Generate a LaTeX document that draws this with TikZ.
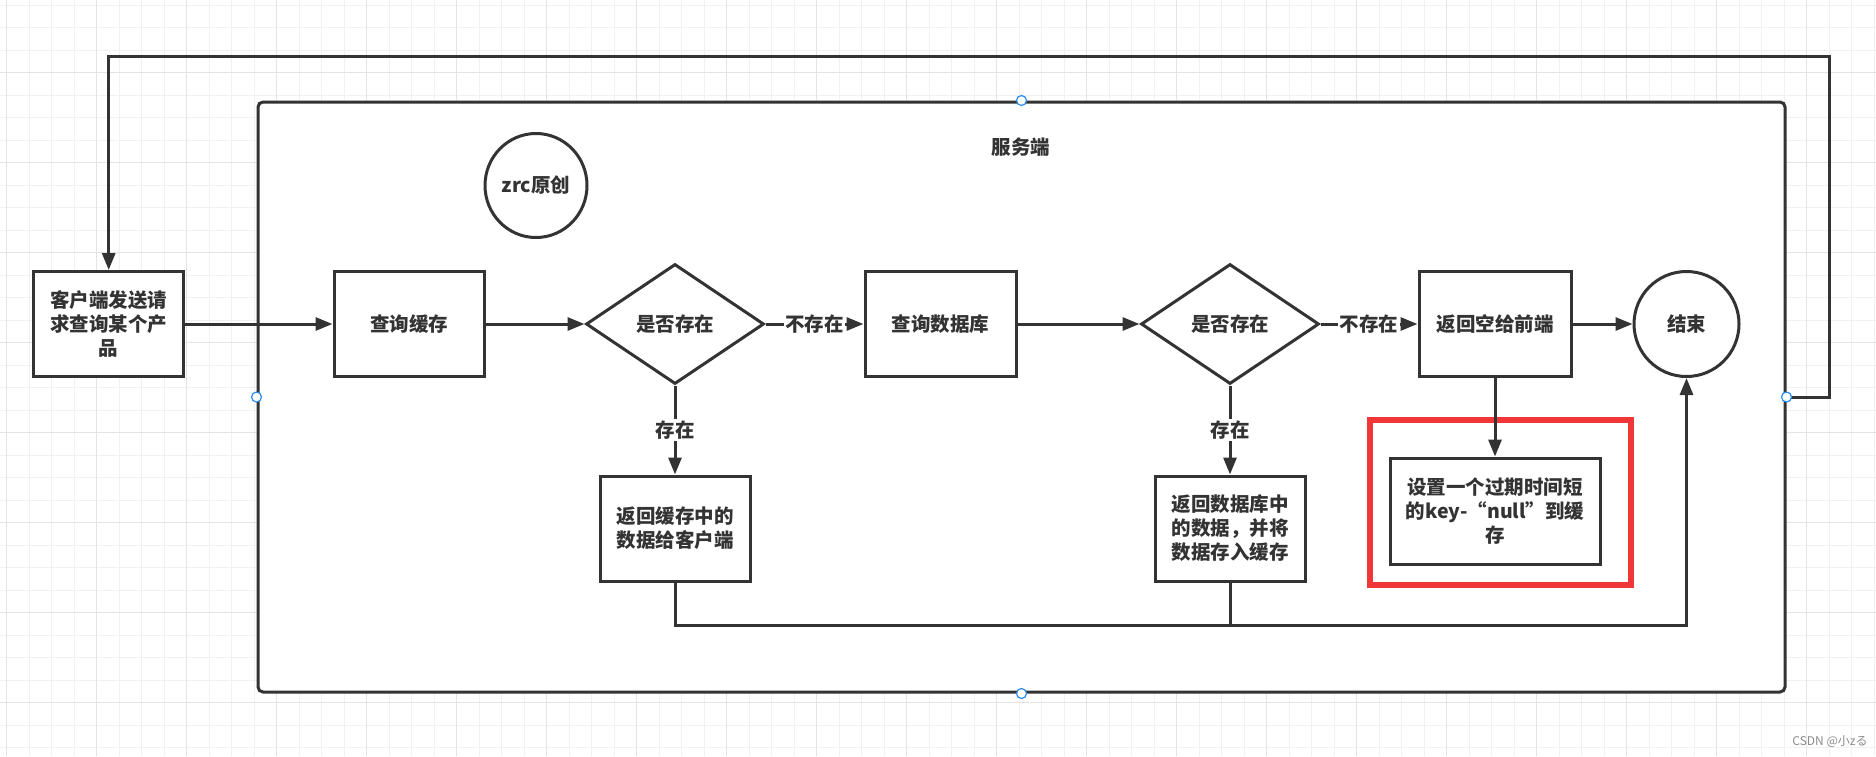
\documentclass[tikz,border=0pt]{standalone}
\usepackage{fontspec}
\setmainfont{Noto Sans CJK SC}
\usetikzlibrary{arrows.meta,shapes.geometric}
\definecolor{ink}{HTML}{333333}
\definecolor{gridminor}{HTML}{F1F1F1}
\definecolor{gridmajor}{HTML}{E4E4E4}
\definecolor{handleblue}{HTML}{2A8CF0}
\definecolor{alertred}{HTML}{F03636}
\tikzset{
  ln/.style={draw=ink, line width=3pt},
  arr/.style={ln, -{Triangle[length=17pt,width=13pt]}},
  box/.style={rectangle, draw=ink, line width=3pt, fill=white, text=ink, align=center, inner sep=0pt, minimum width=150pt, minimum height=105pt},
  dec/.style={diamond, draw=ink, line width=3pt, fill=white, text=ink, inner sep=0pt, minimum width=178pt, minimum height=120pt},
  lab/.style={fill=white, text=ink, inner sep=1.5pt},
  handle/.style={circle, draw=handleblue, fill=white, line width=1.2pt, minimum size=10pt, inner sep=0pt},
  gmin/.style={draw=gridminor, line width=1pt},
  gmaj/.style={draw=gridmajor, line width=1.2pt}
}
\begin{document}
\begin{tikzpicture}[x=1pt,y=-1pt, font=\bfseries\fontsize{19.5}{24}\selectfont]
\useasboundingbox (0,0) rectangle (1876,756);
\fill[white] (0,0) rectangle (1876,756);
% background grid
\foreach \i in {0,...,83} \draw[gmin] ({6.7+22.5*\i},0) -- ++(0,756);
\foreach \j in {0,...,33} \draw[gmin] (0,{5+22.5*\j}) -- ++(1876,0);
\foreach \i in {0,...,20} \draw[gmaj] ({6.7+90*\i},0) -- ++(0,756);
\foreach \j in {1,...,8} \draw[gmaj] (0,{-17.7+90*\j}) -- ++(1876,0);

% server container
\node[draw=ink, line width=3pt, fill=white, rounded corners=5pt, minimum width=1527pt, minimum height=590pt, inner sep=0pt] (srv) at (1021.5,397) {};
\node[text=ink] (srvlabel) at (1021,147) {服务端};
\node[ellipse, draw=ink, line width=3pt, text=ink, minimum width=102pt, minimum height=104pt, inner sep=0pt] (zrc) at (536,185.5) {zrc原创};

% nodes
\node[box] (client) at (108.7,324) {客户端发送请\\求查询某个产\\品};
\node[box] (q1) at (409,324) {查询缓存};
\node[dec] (d1) at (675,324) {是否存在};
\node[box, minimum width=151pt] (q2) at (940.5,324) {查询数据库};
\node[dec] (d2) at (1230,324) {是否存在};
\node[box, minimum width=152pt] (ret) at (1495,324) {返回空给前端};
\node[circle, draw=ink, line width=3pt, fill=white, text=ink, minimum size=105pt, inner sep=0pt] (end) at (1686.5,324) {结束};
\node[box] (r1) at (675,528.5) {返回缓存中的\\数据给客户端};
\node[box] (r2) at (1230,528.5) {返回数据库中\\的数据，并将\\数据存入缓存};
\node[box, minimum width=210pt, minimum height=106pt] (setnull) at (1495,511) {设置一个过期时间短\\的key-“null”到缓\\存};
\node[draw=alertred, line width=6pt, minimum width=261pt, minimum height=165pt, inner sep=0pt] (redframe) at (1500.5,502.5) {};

% helper coordinates
\coordinate (top) at (0,56.5);
\coordinate (rt) at (1829,0);
\coordinate (bot) at (0,625);

% connectors
\draw[arr] (srv.east) -- (srv.east -| rt) -- (rt |- top) -- (client.north |- top) -- (client.north);
\draw[arr] (client) -- (q1);
\draw[arr] (q1) -- (d1);
\draw[arr] (d1) -- node[lab] (l1) {不存在} (q2);
\draw[arr] (d1) -- node[lab] (l2) {存在} (r1);
\draw[arr] (q2) -- (d2);
\draw[arr] (d2) -- node[lab] (l3) {不存在} (ret);
\draw[arr] (d2) -- node[lab] (l4) {存在} (r2);
\draw[arr] (ret) -- (end);
\draw[arr] (ret) -- (setnull);
\draw[arr] (r1.south) -- (r1.south |- bot) -- (end.south |- bot) -- (end.south);
\draw[ln] (r2.south) -- (r2.south |- bot);

% selection handles
\node[handle] (h1) at (srv.north) {};
\node[handle] (h2) at (srv.south) {};
\node[handle] (h3) at (srv.west) {};
\node[handle] (h4) at (srv.east) {};

% watermark
\node[font=\fontsize{12}{14}\selectfont, text=black!45] (wm) at (1830,742) {CSDN @小zる};
\end{tikzpicture}
\end{document}
